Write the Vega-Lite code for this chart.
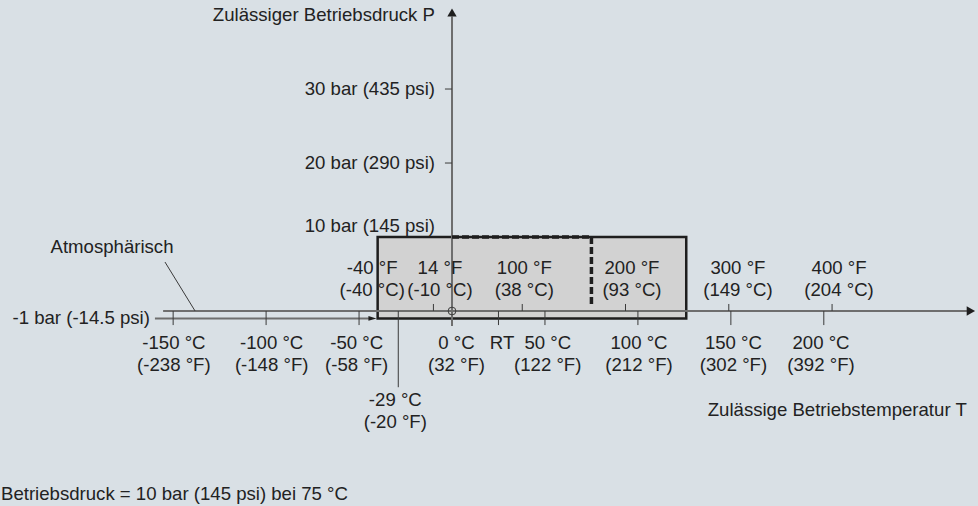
{
  "$schema": "https://vega.github.io/schema/vega-lite/v6.json",
  "width": 978,
  "height": 506,
  "autosize": "none",
  "padding": 0,
  "background": "#d9e0e5",
  "config": {
    "view": {"stroke": null},
    "text": {"font": "Liberation Sans", "fontSize": 18.6, "color": "#222222"}
  },
  "datasets": {
    "box": [{"t": -40, "t2": 126, "p": -1, "p2": 10}],
    "axisLines": [
      {"name": "temperature axis", "t": -155.4, "p": 0, "t2": 277.0, "p2": 0},
      {"name": "pressure axis", "t": 0, "p": -2.03, "t2": 0, "p2": 39.8},
      {"name": "-1 bar line", "t": -159.8, "p": -1, "t2": -44, "p2": -1}
    ],
    "ticks": [
      {"t": -150, "p": 0, "t2": -150, "p2": -1.9},
      {"t": -100, "p": 0, "t2": -100, "p2": -1.9},
      {"t": -50, "p": 0, "t2": -50, "p2": -1.9},
      {"t": 25, "p": 0, "t2": 25, "p2": -1.9},
      {"t": 50, "p": 0, "t2": 50, "p2": -1.9},
      {"t": 100, "p": 0, "t2": 100, "p2": -1.9},
      {"t": 150, "p": 0, "t2": 150, "p2": -1.9},
      {"t": 200, "p": 0, "t2": 200, "p2": -1.9},
      {"t": -28.9, "p": 0, "t2": -28.9, "p2": -10.3},
      {"t": -10, "p": 0, "t2": -10, "p2": 0.95},
      {"t": 37.78, "p": 0, "t2": 37.78, "p2": 0.95},
      {"t": 93.33, "p": 0, "t2": 93.33, "p2": 0.95},
      {"t": 148.89, "p": 0, "t2": 148.89, "p2": 0.95},
      {"t": 204.44, "p": 0, "t2": 204.44, "p2": 0.95},
      {"t": -3.8, "p": 20, "t2": 0, "p2": 20},
      {"t": -3.8, "p": 30, "t2": 0, "p2": 30},
      {"t": -154.4, "p": 6.62, "t2": -138.2, "p2": 0}
    ],
    "dashed": [
      {"t": 0, "p": 10, "t2": 75, "p2": 10},
      {"t": 75, "p": 10, "t2": 75, "p2": 0.6}
    ],
    "rightLabels": [
      {"t": -9.15, "p": 40.0, "txt": "Zulässiger Betriebsdruck P"},
      {"t": -9.15, "p": 30, "txt": "30 bar (435 psi)"},
      {"t": -9.15, "p": 20, "txt": "20 bar (290 psi)"},
      {"t": -9.15, "p": 11.5, "txt": "10 bar (145 psi)"},
      {"t": -162.5, "p": -1, "txt": "-1 bar (-14.5 psi)"},
      {"t": 276.9, "p": -13.4, "txt": "Zulässige Betriebstemperatur T"}
    ],
    "leftLabels": [
      {"t": -242.6, "p": -24.77, "txt": "Betriebsdruck = 10 bar (145 psi) bei 75 °C"}
    ],
    "centerLabels": [
      {"t": -182.9, "p": 8.69, "l1": "Atmosphärisch", "l2": ""},
      {"t": 26.9, "p": -4.32, "l1": "RT", "l2": ""},
      {"t": -149.6, "p": -4.32, "l1": "-150 °C", "l2": "(-238 °F)"},
      {"t": -97, "p": -4.32, "l1": "-100 °C", "l2": "(-148 °F)"},
      {"t": -51.3, "p": -4.32, "l1": "-50 °C", "l2": "(-58 °F)"},
      {"t": 2.4, "p": -4.32, "l1": "0 °C", "l2": "(32 °F)"},
      {"t": 51.5, "p": -4.32, "l1": "50 °C", "l2": "(122 °F)"},
      {"t": 100.6, "p": -4.32, "l1": "100 °C", "l2": "(212 °F)"},
      {"t": 151.4, "p": -4.32, "l1": "150 °C", "l2": "(302 °F)"},
      {"t": 198.5, "p": -4.32, "l1": "200 °C", "l2": "(392 °F)"},
      {"t": -30.5, "p": -12.03, "l1": "-29 °C", "l2": "(-20 °F)"},
      {"t": -42.9, "p": 5.81, "l1": "-40 °F", "l2": "(-40 °C)"},
      {"t": -6.5, "p": 5.81, "l1": "14 °F", "l2": "(-10 °C)"},
      {"t": 38.9, "p": 5.81, "l1": "100 °F", "l2": "(38 °C)"},
      {"t": 96.8, "p": 5.81, "l1": "200 °F", "l2": "(93 °C)"},
      {"t": 153.8, "p": 5.81, "l1": "300 °F", "l2": "(149 °C)"},
      {"t": 208.2, "p": 5.81, "l1": "400 °F", "l2": "(204 °C)"}
    ]
  },
  "encoding": {
    "x": {"field": "t", "type": "quantitative", "scale": {"domain": [-243.14, 282.94], "nice": false, "zero": false}, "axis": null},
    "y": {"field": "p", "type": "quantitative", "scale": {"domain": [-26.35, 42.03], "nice": false, "zero": false}, "axis": null}
  },
  "layer": [
    {
      "data": {"name": "box"},
      "mark": {"type": "rect", "fill": "#d2d2d2", "stroke": "#1e1e1e", "strokeWidth": 2.5},
      "encoding": {"x2": {"field": "t2"}, "y2": {"field": "p2"}}
    },
    {
      "data": {"name": "axisLines"},
      "mark": {"type": "rule", "stroke": "#6e6e6e", "strokeWidth": 2},
      "encoding": {"x2": {"field": "t2"}, "y2": {"field": "p2"}}
    },
    {
      "data": {"name": "ticks"},
      "mark": {"type": "rule", "stroke": "#3a3a3a", "strokeWidth": 1},
      "encoding": {"x2": {"field": "t2"}, "y2": {"field": "p2"}}
    },
    {
      "data": {"name": "dashed"},
      "mark": {"type": "rule", "stroke": "#1e1e1e", "strokeWidth": 3.5, "strokeDash": [7, 3]},
      "encoding": {"x2": {"field": "t2"}, "y2": {"field": "p2"}}
    },
    {
      "data": {"values": [{"t": 0, "p": 0}]},
      "mark": {"type": "point", "shape": "circle", "size": 60, "filled": false, "stroke": "#3a3a3a", "strokeWidth": 1, "opacity": 1}
    },
    {
      "data": {"values": [{"t": 0, "p": 40.34}]},
      "mark": {"type": "point", "shape": "triangle-up", "size": 88, "filled": true, "color": "#1e1e1e", "opacity": 1}
    },
    {
      "data": {"values": [{"t": 279.1, "p": 0}]},
      "mark": {"type": "point", "shape": "triangle-right", "size": 94, "filled": true, "color": "#1e1e1e", "opacity": 1}
    },
    {
      "data": {"values": [{"t": -42.8, "p": -1}]},
      "mark": {"type": "point", "shape": "M-1,-0.6L1,0L-1,0.6Z", "size": 64, "filled": true, "color": "#1e1e1e", "opacity": 1}
    },
    {
      "data": {"name": "rightLabels"},
      "mark": {"type": "text", "align": "right", "baseline": "middle"},
      "encoding": {"text": {"field": "txt"}}
    },
    {
      "data": {"name": "leftLabels"},
      "mark": {"type": "text", "align": "left", "baseline": "middle"},
      "encoding": {"text": {"field": "txt"}}
    },
    {
      "data": {"name": "centerLabels"},
      "mark": {"type": "text", "align": "center", "baseline": "middle"},
      "encoding": {"text": {"field": "l1"}}
    },
    {
      "data": {"name": "centerLabels"},
      "mark": {"type": "text", "align": "center", "baseline": "middle", "dy": 22},
      "encoding": {"text": {"field": "l2"}}
    }
  ]
}
